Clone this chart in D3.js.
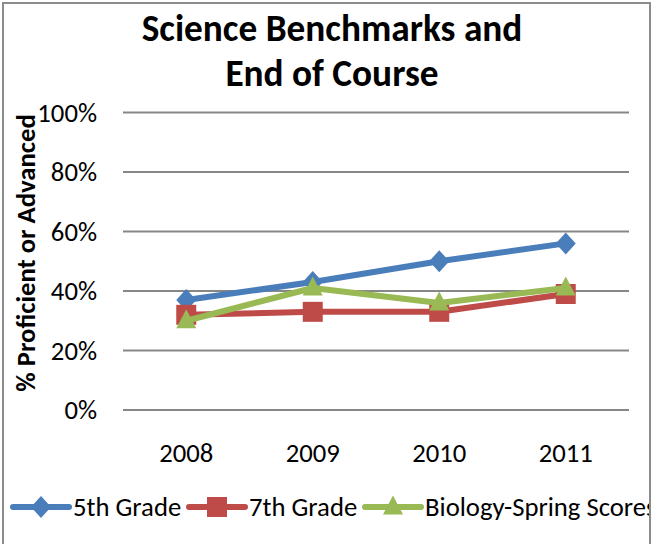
<!DOCTYPE html>
<html><head><meta charset="utf-8">
<script src="https://cdn.jsdelivr.net/npm/d3@7"></script>
<style>body{margin:0;background:#fff}svg{display:block}</style>
</head><body>
<script>
const categories = ["2008","2009","2010","2011"];
const grade5 = [0.37, 0.43, 0.50, 0.56];
const grade7 = [0.32, 0.33, 0.33, 0.39];
const biology = [0.30, 0.41, 0.36, 0.41];
const seriesNames = ["5th Grade","7th Grade","Biology-Spring Scores"];
const yTicks = [0, 0.2, 0.4, 0.6, 0.8, 1.0];

const W = 664, H = 544;
const font = "Carlito, Calibri, Lato, sans-serif";
const fs = 26.7;
const svg = d3.select("body").append("svg").attr("width", W).attr("height", H);
svg.append("rect").attr("width", W).attr("height", H).attr("fill", "#fff");

const L = 123, R = 629, T = 112.5, B = 410;
const x = d3.scaleBand().domain(categories).range([L, R]);
const y = d3.scaleLinear().domain([0, 1]).range([B, T]);

// gridlines
svg.append("g").selectAll("line").data(yTicks).join("line")
  .attr("x1", L).attr("x2", R).attr("y1", d => y(d)).attr("y2", d => y(d))
  .attr("stroke", "#878787").attr("stroke-width", 2);

// y axis labels
const yAxis = d3.axisLeft(y).tickValues(yTicks).tickFormat(d3.format(".0%")).tickSize(0).tickPadding(0);
const gy = svg.append("g").attr("transform", `translate(97,0)`).call(yAxis);
gy.select(".domain").remove();
gy.selectAll("text").attr("font-family", font).attr("font-size", fs).attr("fill", "#000").attr("dy", "0.33em");

// x axis labels
const xAxis = d3.axisBottom(x).tickSize(0).tickPadding(0);
const gx = svg.append("g").attr("transform", `translate(0,462)`).call(xAxis);
gx.select(".domain").remove();
gx.selectAll("text").attr("font-family", font).attr("font-size", fs).attr("fill", "#000").attr("dy", "0");

// titles
const title = svg.append("text").attr("text-anchor", "middle").attr("font-family", font)
  .attr("font-weight", "bold").attr("font-size", 37.3).attr("fill", "#000");
title.append("tspan").attr("x", 332).attr("y", 41).text("Science Benchmarks and");
title.append("tspan").attr("x", 332).attr("y", 86).text("End of Course");

svg.append("text").attr("transform", "translate(35,253) rotate(-90)").attr("text-anchor", "middle")
  .attr("font-family", font).attr("font-weight", "bold").attr("font-size", fs).attr("fill", "#000")
  .text("% Proficient or Advanced");

const diamond = {draw(ctx, r){ ctx.moveTo(0,-r*1.1); ctx.lineTo(r,0); ctx.lineTo(0,r*1.1); ctx.lineTo(-r,0); ctx.closePath(); }};
const square = {draw(ctx, r){ ctx.rect(-r,-r,2*r,2*r); }};
const triangle = {draw(ctx, r){ ctx.moveTo(0,-r*1.15); ctx.lineTo(r,r*0.75); ctx.lineTo(-r,r*0.75); ctx.closePath(); }};

const series = [
  {name: seriesNames[0], values: grade5, color: "#4a7ebb", sym: diamond},
  {name: seriesNames[1], values: grade7, color: "#be4b48", sym: square},
  {name: seriesNames[2], values: biology, color: "#98b954", sym: triangle}
];
const line = d3.line().x((d, i) => x(categories[i]) + x.bandwidth()/2).y(d => y(d));

series.forEach(s => {
  const g = svg.append("g");
  g.append("path").attr("d", line(s.values)).attr("fill", "none").attr("stroke", s.color)
    .attr("stroke-width", 6).attr("stroke-linejoin", "round").attr("stroke-linecap", "round");
  g.selectAll("path.m").data(s.values).join("path").attr("class", "m")
    .attr("transform", (d, i) => `translate(${x(categories[i]) + x.bandwidth()/2},${y(d)})`)
    .attr("d", d3.symbol().type(s.sym).size(10)).attr("fill", s.color);
});

// legend
const legX = [13, 189, 365];
const legY = 507;
series.forEach((s, i) => {
  const g = svg.append("g").attr("transform", `translate(${legX[i]},${legY})`);
  g.append("line").attr("x1", 0).attr("x2", 56).attr("stroke", s.color).attr("stroke-width", 6).attr("stroke-linecap", "round");
  g.append("path").attr("transform", `translate(28,0)`)
    .attr("d", d3.symbol().type(s.sym).size(10)).attr("fill", s.color);
  g.append("text").attr("x", 60).attr("dy", "0.33em").attr("font-family", font).attr("font-size", fs)
    .attr("fill", "#000").text(s.name);
});
// clip right of border
svg.append("rect").attr("x", 651).attr("y", 0).attr("width", 13).attr("height", H).attr("fill", "#fff");
svg.append("path").attr("d", "M3,544V3H650V544").attr("fill", "none").attr("stroke", "#8c8c8c").attr("stroke-width", 2);
</script>
</body></html>
